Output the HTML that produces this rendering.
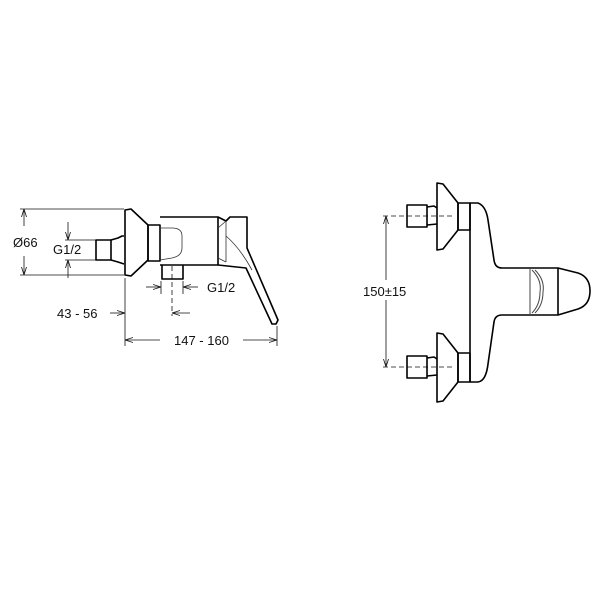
<!DOCTYPE html>
<html><head><style>
html,body{margin:0;padding:0;background:#fff;width:600px;height:600px;overflow:hidden}
text{font-family:"Liberation Sans",Arial,sans-serif;font-size:13px;fill:#111}
</style></head><body>
<svg width="600" height="600" viewBox="0 0 600 600" xmlns="http://www.w3.org/2000/svg">
<defs>
<marker id="a" markerWidth="8" markerHeight="6" refX="8" refY="3" orient="auto" markerUnits="userSpaceOnUse"><path d="M0,0.5 L8,3 L0,5.5" fill="none" stroke="#111" stroke-width="0.8"/></marker>
</defs>
<g fill="none" stroke="#111" stroke-width="0.8">
<line x1="20" y1="209" x2="124" y2="209"/>
<line x1="20" y1="275" x2="124" y2="275"/>
<line x1="24" y1="226" x2="24" y2="209" marker-end="url(#a)"/>
<line x1="24" y1="256" x2="24" y2="275" marker-end="url(#a)"/>
<line x1="65" y1="240" x2="106" y2="240"/>
<line x1="65" y1="260" x2="106" y2="260"/>
<line x1="68" y1="222" x2="68" y2="240" marker-end="url(#a)"/>
<line x1="68" y1="278" x2="68" y2="260" marker-end="url(#a)"/>
<line x1="161" y1="281" x2="161" y2="294"/>
<line x1="183" y1="281" x2="183" y2="294"/>
<line x1="146" y1="287" x2="161" y2="287" marker-end="url(#a)"/>
<line x1="198" y1="287" x2="183" y2="287" marker-end="url(#a)"/>
<line x1="172" y1="266" x2="172" y2="316" stroke-dasharray="5,3"/>
<line x1="110" y1="313" x2="125" y2="313" marker-end="url(#a)"/>
<line x1="190" y1="313" x2="172" y2="313" marker-end="url(#a)"/>
<line x1="125" y1="278" x2="125" y2="346"/>
<line x1="277" y1="326" x2="277" y2="346"/>
<line x1="160" y1="340" x2="125" y2="340" marker-end="url(#a)"/>
<line x1="243" y1="340" x2="277" y2="340" marker-end="url(#a)"/>
</g>
<g fill="none" stroke="#000" stroke-width="1.6" stroke-linejoin="round">
<rect x="96" y="240" width="15" height="20"/>
<path d="M111,240 L118,238 L122,236 L124,236 M111,260 L118,262 L124,264"/>
<path d="M125,210 L131,209 L148,225 L148,260 L131,276 L125,275 Z"/>
<rect x="148" y="225" width="12" height="36"/>
<path d="M160,217 L218,217 L218,265 L160,265"/>
<path d="M162,265 L162,279 L183,279 L183,265"/>
<path d="M218,217 L226,221 L230,217 L247,217 L247,248 L278,320 L276,324 L272,324 L246,268 L218,265"/>
</g>
<g fill="none" stroke="#333" stroke-width="0.8">
<path d="M160,228 L172,228 Q182,228 182,236 L182,248 Q182,256 172,258 L160,260"/>
<path d="M218,228 L226,221 M218,258 L226,262 M226,221 L226,262"/>
<path d="M226,236 Q240,248 252,270"/>
</g>
<text x="13" y="247">Ø66</text>
<text x="53" y="254">G1/2</text>
<text x="207" y="292">G1/2</text>
<text x="57" y="318">43 - 56</text>
<text x="174" y="345">147 - 160</text>

<g fill="none" stroke="#111" stroke-width="0.8">
<line x1="383" y1="216" x2="452" y2="216" stroke-dasharray="5,3"/>
<line x1="383" y1="367" x2="452" y2="367" stroke-dasharray="5,3"/>
<line x1="386" y1="280" x2="386" y2="216" marker-end="url(#a)"/>
<line x1="386" y1="300" x2="386" y2="367" marker-end="url(#a)"/>
</g>
<text x="363" y="296">150±15</text>
<g fill="none" stroke="#000" stroke-width="1.6" stroke-linejoin="round">
<rect x="407" y="205" width="20" height="22"/>
<path d="M427,207 L434,206 L437,208 M427,225 L437,224"/>
<path d="M437,183 L443,184 L458,203 L458,230 L443,249 L437,250 Z"/>
<rect x="458" y="203" width="12" height="27"/>
<rect x="407" y="356" width="20" height="22"/>
<path d="M427,358 L434,357 L437,359 M427,376 L437,375"/>
<path d="M437,333 L443,334 L458,353 L458,382 L443,401 L437,402 Z"/>
<rect x="458" y="353" width="12" height="29"/>
<line x1="470" y1="203" x2="470" y2="382"/>
<path d="M470,203 L478,203 Q486,206 488,220 L494,260 Q495,268 502,268 L558,268 L578,273 Q590,277 590,291 Q590,305 578,309 L558,315 L502,315 Q495,315 494,322 L488,364 Q486,381 478,382 L470,382"/>
<line x1="558" y1="268" x2="558" y2="315"/>
</g>
<g fill="none" stroke="#444" stroke-width="1">
<line x1="530" y1="268" x2="530" y2="315"/>
<path d="M532,270 Q542,280 540,292 Q540,305 532,313"/>
<path d="M535,270 Q545,280 543,292 Q543,305 535,313"/>
</g>
</svg>
</body></html>
